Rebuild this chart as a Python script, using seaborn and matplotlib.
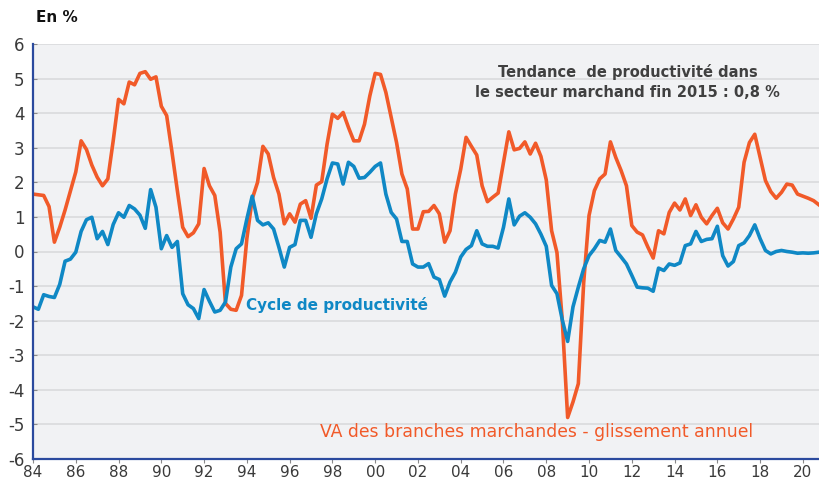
import pandas as pd
import matplotlib
matplotlib.use("Agg")
import matplotlib.pyplot as plt
import seaborn as sns

# quarterly data, 1984Q1 -> 2020Q4
start_year = 1984
va_marchand = [
    1.66, 1.64, 1.62, 1.3, 0.27, 0.7, 1.2, 1.75, 2.3, 3.2, 2.95, 2.5,
    2.15, 1.9, 2.1, 3.2, 4.4, 4.27, 4.9, 4.82, 5.15, 5.2, 4.98, 5.05,
    4.2, 3.93, 2.87, 1.76, 0.7, 0.43, 0.54, 0.8, 2.4, 1.9, 1.62, 0.56,
    -1.5, -1.67, -1.7, -1.27, 0.37, 1.52, 2.0, 3.04, 2.82, 2.14, 1.66, 0.8,
    1.09, 0.85, 1.37, 1.47, 0.96, 1.92, 2.02, 3.1, 3.97, 3.85, 4.02, 3.59,
    3.2, 3.2, 3.68, 4.5, 5.15, 5.12, 4.6, 3.87, 3.15, 2.24, 1.81, 0.65,
    0.65, 1.15, 1.16, 1.33, 1.09, 0.27, 0.6, 1.66, 2.38, 3.3, 3.04, 2.79,
    1.9, 1.44, 1.57, 1.69, 2.58, 3.46, 2.94, 2.98, 3.17, 2.82, 3.13, 2.75,
    2.07, 0.6, -0.03, -2.0, -4.8, -4.35, -3.82, -0.9, 1.04, 1.76, 2.1, 2.24,
    3.17, 2.72, 2.34, 1.9, 0.75, 0.56, 0.48, 0.13, -0.19, 0.6, 0.51, 1.13,
    1.4, 1.2, 1.52, 1.04, 1.35, 0.99, 0.8, 1.04, 1.25, 0.83, 0.65, 0.94,
    1.28, 2.58, 3.15, 3.39, 2.72, 2.05, 1.73, 1.54, 1.71, 1.95, 1.92, 1.66,
    1.6, 1.54, 1.47, 1.35,
]
cycle_productivite = [
    -1.6, -1.67, -1.25, -1.3, -1.33, -0.95, -0.28, -0.22, -0.02, 0.58, 0.92, 0.99,
    0.37, 0.58, 0.2, 0.78, 1.12, 0.99, 1.33, 1.23, 1.05, 0.67, 1.79, 1.28,
    0.08, 0.46, 0.12, 0.29, -1.22, -1.54, -1.65, -1.94, -1.1, -1.44, -1.75, -1.7,
    -1.46, -0.45, 0.08, 0.22, 0.94, 1.6, 0.9, 0.77, 0.83, 0.65, 0.12, -0.45,
    0.12, 0.2, 0.9, 0.9, 0.41, 1.09, 1.52, 2.1, 2.56, 2.53, 1.95, 2.58,
    2.46, 2.12, 2.14, 2.29, 2.46, 2.56, 1.66, 1.13, 0.94, 0.29, 0.29, -0.36,
    -0.45, -0.45, -0.35, -0.74, -0.81, -1.29, -0.88, -0.6, -0.16, 0.06, 0.17, 0.6,
    0.22, 0.15, 0.15, 0.1, 0.7, 1.52, 0.77, 1.02, 1.12, 0.99, 0.8, 0.5,
    0.15, -0.98, -1.22, -1.98, -2.6, -1.6, -1.03, -0.5, -0.12, 0.08, 0.32, 0.27,
    0.65, 0.03, -0.16, -0.36, -0.69, -1.03, -1.05, -1.06, -1.15, -0.48, -0.55, -0.36,
    -0.4, -0.33, 0.17, 0.22, 0.58, 0.29, 0.35, 0.37, 0.73, -0.12, -0.42, -0.29,
    0.17, 0.25, 0.46, 0.77, 0.37, 0.03, -0.07, 0.0, 0.03, 0.0, -0.02, -0.05,
    -0.04, -0.05, -0.04, -0.02,
]
tick_years = list(range(1984, 2021, 2))
tick_labels = ["84", "86", "88", "90", "92", "94", "96", "98", "00", "02",
               "04", "06", "08", "10", "12", "14", "16", "18", "20"]
y_ticks = list(range(-6, 7))

n = len(va_marchand)
dates = [start_year + i / 4 for i in range(n)]
df = pd.DataFrame({
    "date": dates * 2,
    "valeur": va_marchand + cycle_productivite,
    "serie": ["va"] * n + ["cycle"] * n,
})

orange = "#f15a29"
blue = "#0f88c5"
spine_col = "#2b4a9e"

plt.rcParams["axes.unicode_minus"] = False
plt.rcParams["font.family"] = ["DejaVu Sans"]

fig = plt.figure(figsize=(8.2, 4.84), dpi=100)
ax = fig.add_axes([33 / 820, 25 / 484, 787 / 820, 415 / 484])
ax.set_facecolor("#f1f2f4")

sns.lineplot(data=df, x="date", y="valeur", hue="serie",
             palette={"va": orange, "cycle": blue}, linewidth=2.6,
             legend=False, ax=ax)

ax.set_xlim(1984, 2020.8)
ax.set_ylim(-6, 6)
ax.set_yticks(y_ticks)
ax.set_yticklabels([str(v) for v in y_ticks])
ax.set_xticks(tick_years)
ax.set_xticklabels(tick_labels)
ax.set_xlabel("")
ax.set_ylabel("")
ax.grid(axis="y", color="#d9dadc", linewidth=1.2)
ax.set_axisbelow(True)
for s in ["top", "right"]:
    ax.spines[s].set_visible(False)
for s in ["left", "bottom"]:
    ax.spines[s].set_color(spine_col)
    ax.spines[s].set_linewidth(1.6)
ax.tick_params(axis="y", direction="in", length=3, color="#8a8a8a",
               labelsize=12, labelcolor="#3a3a3a", pad=6)
ax.tick_params(axis="x", direction="out", length=3, color="#8a8a8a",
               labelsize=11, labelcolor="#3a3a3a", pad=1)

fig.text(36 / 820, 1 - 18 / 484, "En %", fontsize=11, fontweight="bold",
         color="#111111", va="center")

ax.text(2011.8, 4.9, "Tendance  de productivité dans\nle secteur marchand fin 2015 : 0,8 %",
        ha="center", va="center", fontsize=10.5, fontweight="bold",
        color="#404040", linespacing=1.35)
ax.text(1993.95, -1.55, "Cycle de productivité", ha="left", va="center",
        fontsize=11, fontweight="bold", color=blue)
ax.text(1997.4, -5.22, "VA des branches marchandes - glissement annuel",
        ha="left", va="center", fontsize=12.4, color=orange)

fig.savefig("out.png", dpi=100)
